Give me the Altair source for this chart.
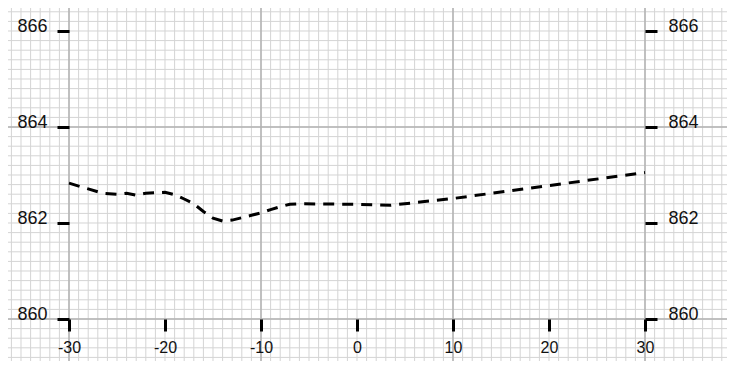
import altair as alt
import pandas as pd

# Profile line (x offset, elevation)
line_x = [-30, -28, -26.5, -25, -24, -23, -22, -21, -20, -19, -18, -17, -16, -15,
          -14, -13, -12, -11, -10, -9, -8, -7, -6, 0, 3.5, 10, 20, 30]
line_y = [862.83, 862.71, 862.62, 862.60, 862.62, 862.58, 862.62, 862.63, 862.64,
          862.59, 862.50, 862.40, 862.24, 862.10, 862.04, 862.06, 862.11, 862.16,
          862.21, 862.28, 862.34, 862.39, 862.40, 862.39, 862.37, 862.51, 862.78, 863.05]

x_ticks = [-30, -20, -10, 0, 10, 20, 30]
y_ticks = [860, 862, 864, 866]

minor_x = list(range(-36, 39))
minor_y = [round(859.2 + 0.2 * i, 1) for i in range(37)]
major_x = [-30, -10, 10, 30]
major_y = [860, 864]

X_DOMAIN = [-36.354, 38.542]
Y_DOMAIN = [859.125, 866.479]

W, H = 719, 353

xs = alt.Scale(domain=X_DOMAIN, nice=False, zero=False)
ys = alt.Scale(domain=Y_DOMAIN, nice=False, zero=False)

line_df = pd.DataFrame({"x": line_x, "y": line_y})

minor_v = alt.Chart(pd.DataFrame({"v": minor_x})).mark_rule(color="#d4d4d4", strokeWidth=1).encode(
    x=alt.X("v:Q", scale=xs, axis=None))
minor_h = alt.Chart(pd.DataFrame({"v": minor_y})).mark_rule(color="#d4d4d4", strokeWidth=1).encode(
    y=alt.Y("v:Q", scale=ys, axis=None))
major_v = alt.Chart(pd.DataFrame({"v": major_x})).mark_rule(color="#b2b2b2", strokeWidth=1.5).encode(
    x=alt.X("v:Q", scale=xs, axis=None))
major_h = alt.Chart(pd.DataFrame({"v": major_y})).mark_rule(color="#b2b2b2", strokeWidth=1.5).encode(
    y=alt.Y("v:Q", scale=ys, axis=None))

common_axis = dict(domain=False, grid=False, tickColor="black", tickWidth=3, tickSize=12,
                   labelFont="Liberation Sans", labelColor="#111", labelFlush=False,
                   labelOverlap=False, labelBound=False, title=None, labelAngle=0, zindex=2,
                   labelExpr="'' + datum.value")

line = alt.Chart(line_df).mark_line(color="black", strokeWidth=3, strokeDash=[11, 8]).encode(
    x=alt.X("x:Q", scale=xs, axis=alt.Axis(orient="bottom", values=x_ticks, offset=-42,
                                            labelFontSize=16, labelPadding=8, **common_axis)),
    y=alt.Y("y:Q", scale=ys, axis=alt.Axis(orient="left", values=y_ticks, offset=-61,
                                            labelFontSize=18, labelPadding=10,
                                            labelBaseline="alphabetic", labelOffset=1, **common_axis)),
)

right = alt.Chart(line_df).mark_point(opacity=0).encode(
    x=alt.X("x:Q", scale=xs, axis=None),
    y=alt.Y("y:Q", scale=ys, axis=alt.Axis(orient="right", values=y_ticks, offset=-82,
                                            labelFontSize=18, labelPadding=11,
                                            labelBaseline="alphabetic", labelOffset=1, **common_axis)),
)

chart = alt.layer(minor_v, minor_h, major_v, major_h, line, right).resolve_scale(
    x="independent", y="independent"
).properties(
    width=W, height=H, padding=0, autosize=alt.AutoSizeParams(type="none")
).configure_view(strokeWidth=0)

chart.save("out.html", embed_options={"renderer": "svg", "actions": False})
